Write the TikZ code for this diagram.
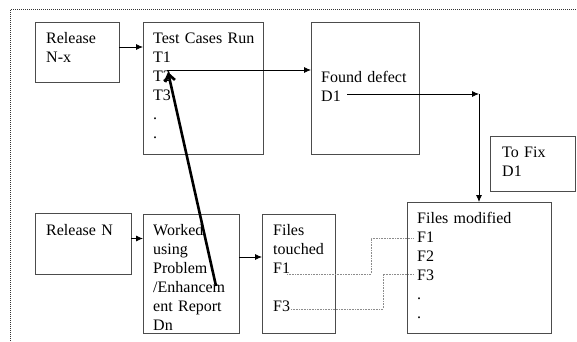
\documentclass[tikz,border=0pt]{standalone}
\usepackage{fontspec}
\setmainfont{Liberation Serif}
\usetikzlibrary{arrows.meta}
\tikzstyle{flowChart} = [x = 1pt, y = -1pt]
\tikzstyle{flowBox} = [draw=black!70, line width=.9pt, anchor=north west, inner sep=0pt, outer sep=0pt]
\tikzstyle{boxText} = [anchor=base west, inner sep=0pt, text width=130pt, align=left, font=\fontsize{16}{19}\selectfont]
\tikzstyle{flowArrow} = [black, line width=.8pt, -{Latex[length=7pt, width=6pt]}]
\tikzstyle{bigArrow} = [black, line width=2.6pt, -{Straight Barb[length=7pt, width=10pt]}]
\tikzstyle{fileLink} = [black!45, line width=.8pt, dash pattern=on .8pt off .8pt]
\tikzstyle{pageBorder} = [black!80, line width=1pt, dash pattern=on 1pt off 1pt]
\newcommand{\processBox}[5]{\node [flowBox, minimum width=#4pt, minimum height=#5pt] (#1) at (#2,#3) {};}
\newcommand{\boxLines}[4]{\node [boxText] (#1Text) at (#2,#3) {#4};}

\begin{document}
\begin{tikzpicture}[flowChart]
    \useasboundingbox (0,0) rectangle (577,341);
    % dotted frame, cut off by the page
    \draw [pageBorder] (10.5,341) -- (10.5,9.5) -- (577,9.5);

    \processBox{releaseOld}{35}{22}{84}{60}
    \processBox{testRun}{143}{22}{120}{132}
    \processBox{foundDefect}{311}{22}{108}{132}
    \processBox{toFix}{490}{136}{85}{55}
    \processBox{releaseNew}{35}{213}{96}{61}
    \processBox{worked}{143}{214}{96}{119}
    \processBox{filesTouched}{262}{214}{73}{119}
    \processBox{filesModified}{407}{202}{144}{131}

    \boxLines{releaseOld}{46}{43}{Release\\N-x}
    \boxLines{testRun}{153}{43}{Test Cases Run\\T1\\T2\\T3\\.\\.}
    \boxLines{foundDefect}{321}{82}{Found defect\\D1}
    \boxLines{toFix}{502}{157}{To Fix\\D1}
    \boxLines{releaseNew}{46}{235}{Release N}
    \boxLines{worked}{153}{235}{Worked\\using\\Problem\\/Enhancem\\ent Report\\Dn}
    \boxLines{filesTouched}{273}{235}{Files\\touched\\F1\\[19pt]F3}
    \boxLines{filesModified}{417}{223}{Files modified\\F1\\F2\\F3\\.\\.}

    \coordinate (testT2) at (167,70);
    \coordinate (testT2Tip) at (168,72);
    \coordinate (defectD1) at (347,94);
    \coordinate (workedPen) at (216,286);
    \coordinate (touchedF1) at (287,274);
    \coordinate (touchedF3) at (291,309);
    \coordinate (modifiedF1) at (414,238);
    \coordinate (modifiedF3) at (414,274);

    \draw [flowArrow] ([yshift=5pt]releaseOld.east) -- ([yshift=5pt]releaseOld.east -| testRun.west);
    \draw [flowArrow] (testT2) -- (testT2 -| foundDefect.west);
    \draw [flowArrow] (defectD1) -- (defectD1 -| filesModified.north);
    \draw [flowArrow] (defectD1 -| filesModified.north) -- (filesModified.north);
    \draw [flowArrow] ([yshift=5pt]releaseNew.east) -- ([yshift=5pt]releaseNew.east -| worked.west);
    \draw [flowArrow] ([yshift=16.5pt]worked.east) -- ([yshift=16.5pt]worked.east -| filesTouched.west);
    \draw [bigArrow] (workedPen) -- (testT2Tip);
    \draw [fileLink] (touchedF1) -- ++(84,0) |- (modifiedF1);
    \draw [fileLink] (touchedF3) -- ++(92,0) |- (modifiedF3);
\end{tikzpicture}
\end{document}
